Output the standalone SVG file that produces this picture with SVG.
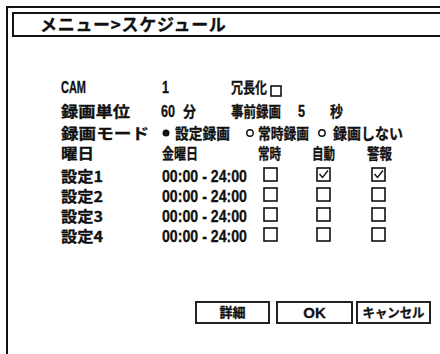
<svg xmlns="http://www.w3.org/2000/svg" width="440" height="354" viewBox="0 0 440 354">
<style>
text{font-family:"Noto Sans CJK JP","Noto Sans",sans-serif;font-weight:bold;fill:#111;stroke:#111;stroke-width:0.3;font-size:15px;}
.n{font-family:"Liberation Sans","Noto Sans",sans-serif;font-size:16.5px;}
.ttl{font-size:17px;letter-spacing:0.7px;}
.frame{fill:none;stroke:#111;stroke-width:2;}
.cb{fill:#fff;stroke:#111;stroke-width:1.6;}
.btn{fill:#fff;stroke:#222;stroke-width:2;}
.bt{font-size:13px;text-anchor:middle;}
</style>
<rect width="440" height="354" fill="#fff"/>
<g id="frame">
<polyline class="frame" points="7,354 7,7 440,7"/>
<polyline class="frame" points="442,13 13,13 13,36 442,36"/>
<text class="ttl" x="40" y="31">メニュー&gt;スケジュール</text>
</g>
<g id="labels">
<text class="n" x="61" y="93" textLength="25" lengthAdjust="spacingAndGlyphs">CAM</text>
<text x="61" y="117" textLength="69" lengthAdjust="spacingAndGlyphs">録画単位</text>
<text x="61" y="139" textLength="88" lengthAdjust="spacingAndGlyphs">録画モード</text>
<text x="61" y="159" textLength="33" lengthAdjust="spacingAndGlyphs">曜日</text>
<text x="61" y="182" textLength="42" lengthAdjust="spacingAndGlyphs">設定1</text>
<text x="61" y="202" textLength="42" lengthAdjust="spacingAndGlyphs">設定2</text>
<text x="61" y="222" textLength="42" lengthAdjust="spacingAndGlyphs">設定3</text>
<text x="61" y="242" textLength="42" lengthAdjust="spacingAndGlyphs">設定4</text>
</g>
<g id="values">
<text class="n" x="162" y="93" textLength="7" lengthAdjust="spacingAndGlyphs">1</text>
<text x="231" y="93" textLength="36" lengthAdjust="spacingAndGlyphs">冗長化</text>
<rect x="271" y="86" width="10" height="10" fill="none" stroke="#111" stroke-width="1.6"/>
<text class="n" x="161" y="117" textLength="14" lengthAdjust="spacingAndGlyphs">60</text>
<text x="183" y="117" textLength="13" lengthAdjust="spacingAndGlyphs">分</text>
<text x="231" y="117" textLength="50" lengthAdjust="spacingAndGlyphs">事前録画</text>
<text class="n" x="298" y="117" textLength="7" lengthAdjust="spacingAndGlyphs">5</text>
<text x="330" y="117" textLength="13" lengthAdjust="spacingAndGlyphs">秒</text>
<circle cx="166" cy="133" r="3.5" fill="#111"/>
<text x="175" y="139" textLength="55" lengthAdjust="spacingAndGlyphs">設定録画</text>
<circle cx="250" cy="133" r="3.2" fill="none" stroke="#111" stroke-width="1.4"/>
<text x="258" y="139" textLength="51" lengthAdjust="spacingAndGlyphs">常時録画</text>
<circle cx="322" cy="133" r="3.2" fill="none" stroke="#111" stroke-width="1.4"/>
<text x="333" y="139" textLength="70" lengthAdjust="spacingAndGlyphs">録画しない</text>
<text x="162" y="159" textLength="36" lengthAdjust="spacingAndGlyphs">金曜日</text>
<text x="258" y="159" textLength="23" lengthAdjust="spacingAndGlyphs">常時</text>
<text x="312" y="159" textLength="23" lengthAdjust="spacingAndGlyphs">自動</text>
<text x="367" y="159" textLength="25" lengthAdjust="spacingAndGlyphs">警報</text>
<text class="n" x="162" y="182" textLength="85" lengthAdjust="spacingAndGlyphs">00:00 - 24:00</text>
<text class="n" x="162" y="202" textLength="85" lengthAdjust="spacingAndGlyphs">00:00 - 24:00</text>
<text class="n" x="162" y="222" textLength="85" lengthAdjust="spacingAndGlyphs">00:00 - 24:00</text>
<text class="n" x="162" y="242" textLength="85" lengthAdjust="spacingAndGlyphs">00:00 - 24:00</text>
</g>
<g id="checkboxes">
<rect class="cb" x="264" y="168" width="13" height="13"/>
<rect class="cb" x="317" y="168" width="13" height="13"/>
<polyline points="319.5,174 322.5,177.5 328,170.5" fill="none" stroke="#111" stroke-width="1.4"/>
<rect class="cb" x="372" y="168" width="13" height="13"/>
<polyline points="374.5,174 377.5,177.5 383,170.5" fill="none" stroke="#111" stroke-width="1.4"/>
<rect class="cb" x="264" y="188" width="13" height="13"/>
<rect class="cb" x="317" y="188" width="13" height="13"/>
<rect class="cb" x="372" y="188" width="13" height="13"/>
<rect class="cb" x="264" y="208" width="13" height="13"/>
<rect class="cb" x="317" y="208" width="13" height="13"/>
<rect class="cb" x="372" y="208" width="13" height="13"/>
<rect class="cb" x="264" y="228" width="13" height="13"/>
<rect class="cb" x="317" y="228" width="13" height="13"/>
<rect class="cb" x="372" y="228" width="13" height="13"/>
</g>
<g id="btn-detail">
<rect class="btn" x="196" y="302" width="73" height="21"/>
<text class="bt" x="232.5" y="317">詳細</text>
</g>
<g id="btn-ok">
<rect class="btn" x="277" y="302" width="75" height="21"/>
<text class="bt n" x="314.5" y="318" style="font-size:15px">OK</text>
</g>
<g id="btn-cancel">
<rect class="btn" x="357" y="302" width="73" height="21"/>
<text class="bt" x="393.5" y="317" textLength="62" lengthAdjust="spacingAndGlyphs">キャンセル</text>
</g>
</svg>
